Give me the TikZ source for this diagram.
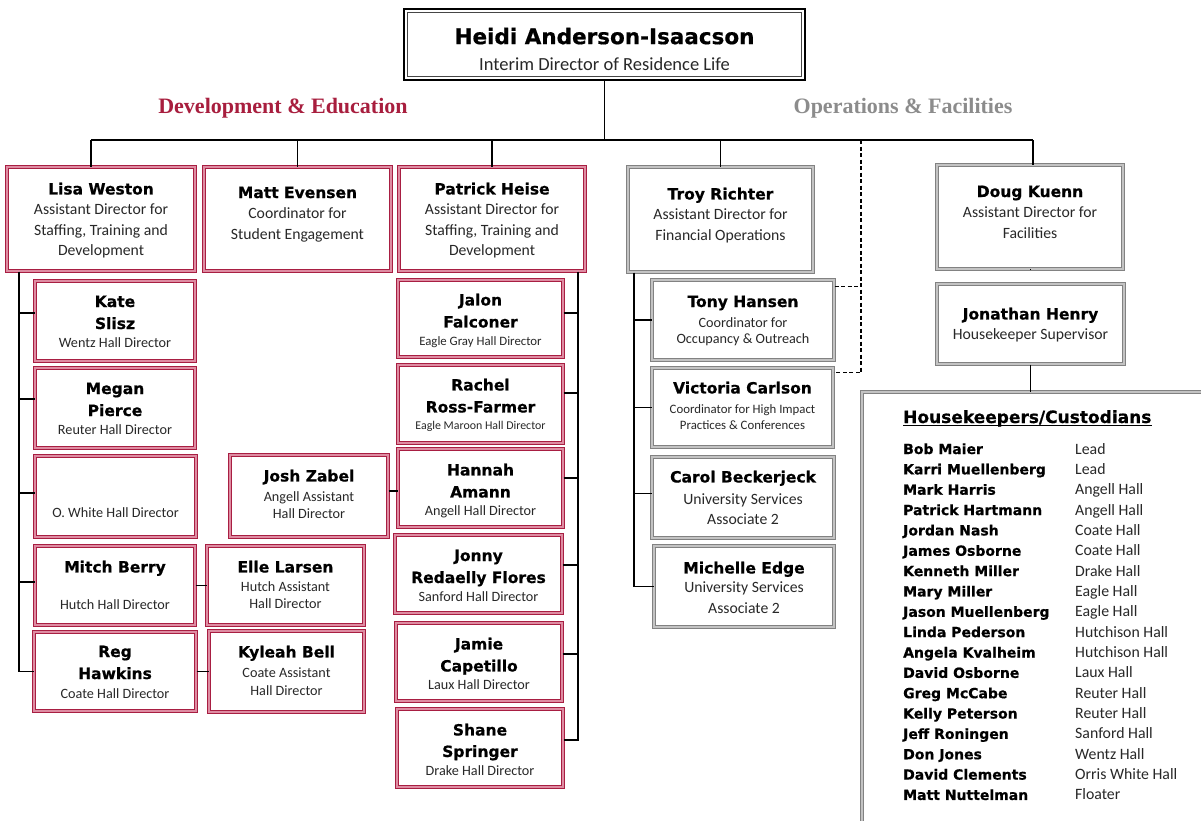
\documentclass[tikz,border=0pt]{standalone}
\usepackage{fontspec}
\setmainfont{Carlito}
\newfontfamily\heavyfont{DejaVu Sans}[BoldFeatures={FakeBold=0.6}]
\newfontfamily\headserif{Liberation Serif}
\usetikzlibrary{fit}
\definecolor{bred}{RGB}{168,30,66}
\definecolor{bpink}{RGB}{222,140,162}
\definecolor{bgray}{RGB}{130,130,130}
\definecolor{blgray}{RGB}{195,195,195}
\definecolor{headred}{RGB}{168,30,62}
\definecolor{headgray}{RGB}{140,140,140}
\definecolor{subgray}{RGB}{40,40,40}
\newcommand\nmf{\heavyfont\bfseries\fontsize{15.5}{20.5}\selectfont\color{black}}
\newcommand\sbf{\fontsize{15.7}{20.5}\selectfont\color{subgray}}
\newcommand\hlf{\fontsize{14.2}{20.5}\selectfont\color{subgray}}
\newcommand\orgbox[8]{%
  \coordinate (#1-a) at (#3,#4);
  \coordinate (#1-b) at (#5,#6);
  \node[#2, fit=(#1-a)(#1-b)] (#1) {};
  \node[txt] (#1-t) at ([yshift=-#7pt]#1.north) {#8};
}
\tikzset{
  redbox/.style={draw=bred, line width=1pt, double=bpink, double distance=1.3pt, inner sep=0pt},
  graybox/.style={draw=bgray, line width=1pt, double=blgray, double distance=1.3pt, inner sep=0pt},
  topbox/.style={draw=black, line width=2.8pt, inner sep=0pt},
  link/.style={line width=1.5pt, draw=black},
  dlink/.style={line width=1.5pt, draw=black, dash pattern=on 4pt off 2.5pt},
  txt/.style={anchor=north, align=center, inner sep=0pt, font=\fontsize{15.7}{20.5}\selectfont},
  sechead/.style={font=\headserif\bfseries\fontsize{22}{26}\selectfont, inner sep=0pt},
  hkname/.style={anchor=base west, inner sep=0pt, font=\heavyfont\bfseries\fontsize{14}{18}\selectfont},
  hkval/.style={anchor=base west, inner sep=0pt, font=\fontsize{15.8}{18}\selectfont, text=subgray}
}
\begin{document}
\begin{tikzpicture}[x=1pt,y=-1pt]
\clip (0,0) rectangle (1201,820);
\fill[white] (0,0) rectangle (1201,820);

% top box
\coordinate (top-a) at (404,9);
\coordinate (top-b) at (805,80);
\node[topbox, fit=(top-a)(top-b)] (top) {};
\draw[line width=0.9pt, draw={rgb,255:red,70;green,70;blue,70}] ([shift={(5pt,-5pt)}]top.north west) rectangle ([shift={(-5pt,5pt)}]top.south east);
\node[txt, font=\fontsize{18.5}{26}\selectfont] (top-t) at ([yshift=-20pt]top.north)
  {{\heavyfont\bfseries\fontsize{21.5}{26}\selectfont Heidi Anderson-Isaacson}\\{\color{subgray}Interim Director of Residence Life}};

% section headings
\node[sechead, text=headred] (devhead) at (283,108) {Development \& Education};
\node[sechead, text=headgray] (opshead) at (903,108) {Operations \& Facilities};

% level 2
\orgbox{lisa}{redbox}{7}{167}{195}{271}{16}{{\nmf Lisa Weston}\\{\sbf Assistant Director for}\\{\sbf Staffing, Training and}\\{\sbf Development}}
\orgbox{matt}{redbox}{204}{167}{391}{271}{20}{{\nmf Matt Evensen}\\{\sbf Coordinator for}\\{\sbf Student Engagement}}
\orgbox{patrick}{redbox}{399}{167}{585}{271}{16}{{\nmf Patrick Heise}\\{\sbf Assistant Director for}\\{\sbf Staffing, Training and}\\{\sbf Development}}
\orgbox{troy}{graybox}{628}{167}{813}{272}{21}{{\nmf Troy Richter}\\{\sbf Assistant Director for}\\{\sbf Financial Operations}}
\orgbox{doug}{graybox}{937}{165}{1123}{269}{21}{{\nmf Doug Kuenn}\\{\sbf Assistant Director for}\\{\sbf Facilities}}
\orgbox{jon}{graybox}{937}{284}{1124}{364}{24}{{\nmf Jonathan Henry}\\{\sbf Housekeeper Supervisor}}

% left column
\orgbox{kate}{redbox}{35}{281}{195}{361}{15}{{\nmf Kate}\\[1.5pt]{\nmf Slisz}\\[-2.5pt]{\hlf Wentz Hall Director}}
\orgbox{megan}{redbox}{35}{368}{195}{448}{15}{{\nmf Megan}\\[1.5pt]{\nmf Pierce}\\[-2.5pt]{\hlf Reuter Hall Director}}
\orgbox{owhite}{redbox}{35}{456}{196}{537}{52}{{\hlf O. White Hall Director}}
\orgbox{mitch}{redbox}{35}{546}{195}{625}{15}{{\nmf Mitch Berry}\\[16.5pt]{\hlf Hutch Hall Director}}
\orgbox{reg}{redbox}{34}{632}{196}{711}{14}{{\nmf Reg}\\[1.5pt]{\nmf Hawkins}\\[-1pt]{\hlf Coate Hall Director}}
\orgbox{elle}{redbox}{207}{546}{364}{625}{15}{{\nmf Elle Larsen}\\[-1.5pt]{\hlf Hutch Assistant}\\[-3pt]{\hlf Hall Director}}
\orgbox{kyleah}{redbox}{209}{631}{364}{712}{15}{{\nmf Kyleah Bell}\\[-0.5pt]{\hlf Coate Assistant}\\[-2.5pt]{\hlf Hall Director}}
\orgbox{josh}{redbox}{230}{455}{388}{537}{15}{{\nmf Josh Zabel}\\{\hlf Angell Assistant}\\[-3.5pt]{\hlf Hall Director}}

% Patrick column
\orgbox{jalon}{redbox}{398}{280}{563}{357}{14}{{\nmf Jalon}\\[1.5pt]{\nmf Falconer}\\[-2.5pt]{\fontsize{12.8}{20.5}\selectfont\color{subgray}Eagle Gray Hall Director}}
\orgbox{rachel}{redbox}{398}{365}{563}{443}{14}{{\nmf Rachel}\\[1.5pt]{\nmf Ross-Farmer}\\[-3pt]{\fontsize{11.9}{20.5}\selectfont\color{subgray}Eagle Maroon Hall Director}}
\orgbox{hannah}{redbox}{398}{449}{563}{527}{15}{{\nmf Hannah}\\[1.5pt]{\nmf Amann}\\[-2.5pt]{\hlf Angell Hall Director}}
\orgbox{jonny}{redbox}{395}{535}{562}{613}{15}{{\nmf Jonny}\\[1.5pt]{\nmf Redaelly Flores}\\[-2.5pt]{\hlf Sanford Hall Director}}
\orgbox{jamie}{redbox}{396}{623}{562}{701}{15}{{\nmf Jamie}\\[1.5pt]{\nmf Capetillo}\\[-2.5pt]{\hlf Laux Hall Director}}
\orgbox{shane}{redbox}{397}{709}{563}{787}{15}{{\nmf Shane}\\[1pt]{\nmf Springer}\\[-1.5pt]{\hlf Drake Hall Director}}

% Troy column
\orgbox{tony}{graybox}{652}{280}{834}{360}{16}{{\nmf Tony Hansen}\\[-0.5pt]{\hlf Coordinator for}\\[-4.5pt]{\hlf Occupancy \& Outreach}}
\orgbox{victoria}{graybox}{652}{368}{833}{447}{14}{{\nmf Victoria Carlson}\\[-0.5pt]{\fontsize{12.8}{20.5}\selectfont\color{subgray}Coordinator for High Impact}\\[-4.5pt]{\fontsize{12.8}{20.5}\selectfont\color{subgray}Practices \& Conferences}}
\orgbox{carol}{graybox}{652}{457}{834}{538}{14}{{\nmf Carol Beckerjeck}\\[1.5pt]{\sbf University Services}\\[-0.5pt]{\sbf Associate 2}}
\orgbox{michelle}{graybox}{654}{546}{834}{627}{16}{{\nmf Michelle Edge}\\[-1.5pt]{\sbf University Services}\\[0.5pt]{\sbf Associate 2}}

% housekeepers box
\coordinate (hk-a) at (862,392);
\coordinate (hk-b) at (1215,835);
\node[graybox, double distance=1.6pt, fit=(hk-a)(hk-b)] (hk) {};
\node[anchor=base west, inner sep=0pt, font=\heavyfont\bfseries\fontsize{17}{20}\selectfont] (hkhead) at (903,423) {Housekeepers/Custodians};
\draw[line width=1.2pt] ([yshift=-2.5pt]hkhead.base west) -- ([yshift=-2.5pt]hkhead.base east);
\foreach \n/\v [count=\i] in {Bob Maier/Lead, Karri Muellenberg/Lead, Mark Harris/Angell Hall, Patrick Hartmann/Angell Hall, Jordan Nash/Coate Hall, James Osborne/Coate Hall, Kenneth Miller/Drake Hall, Mary Miller/Eagle Hall, Jason Muellenberg/Eagle Hall, Linda Pederson/Hutchison Hall, Angela Kvalheim/Hutchison Hall, David Osborne/Laux Hall, Greg McCabe/Reuter Hall, Kelly Peterson/Reuter Hall, Jeff Roningen/Sanford Hall, Don Jones/Wentz Hall, David Clements/Orris White Hall, Matt Nuttelman/Floater}{
  \node[hkname] (hkn\i) at (903,{454+(\i-1)*20.35}) {\n};
  \node[hkval] (hkv\i) at (1075,{454+(\i-1)*20.35}) {\v};
}

% connectors
\coordinate (barL) at (91,140);
\coordinate (barR) at (1033,140);
\coordinate (dtop) at (861,140);
\draw[link] (top.south) -- (top.south |- barL);
\draw[link] (barL) -- (barR);
\draw[link] (barL) -- (barL |- lisa.north);
\draw[link] (matt.north |- barL) -- (matt.north);
\draw[link] (patrick.north |- barL) -- (patrick.north);
\draw[link] (troy.north |- barL) -- (troy.north);
\draw[link] (barR) -- (barR |- doug.north);
\draw[link] (doug.south) -- (doug.south -| jon.north);
\draw[link] (jon.south) -- (jon.south |- hk.north);

% Lisa spine
\coordinate (lsp) at (19,0);
\draw[link] (lisa.south -| lsp) |- (reg.west);
\draw[link] ([yshift=8pt]kate.west -| lsp) -- ([yshift=8pt]kate.west);
\draw[link] ([yshift=9pt]megan.west -| lsp) -- ([yshift=9pt]megan.west);
\draw[link] ([yshift=3.5pt]owhite.west -| lsp) -- ([yshift=3.5pt]owhite.west);
\draw[link] ([yshift=3.5pt]mitch.west -| lsp) -- ([yshift=3.5pt]mitch.west);
\draw[link] (mitch.east) -- (mitch.east -| elle.west);
\draw[link] (reg.east) -- (reg.east -| kyleah.west);
\draw[link] ([yshift=5pt]josh.east) -- ([yshift=5pt]josh.east -| hannah.west);

% Patrick spine
\coordinate (psp) at (578,0);
\draw[link] (patrick.south -| psp) |- ([yshift=8pt]shane.east);
\draw[link] ([yshift=5.5pt]jalon.east) -- ([yshift=5.5pt]jalon.east -| psp);
\draw[link] ([yshift=11pt]rachel.east) -- ([yshift=11pt]rachel.east -| psp);
\draw[link] ([yshift=10pt]hannah.east) -- ([yshift=10pt]hannah.east -| psp);
\draw[link] ([yshift=9pt]jonny.east) -- ([yshift=9pt]jonny.east -| psp);
\draw[link] ([yshift=8pt]jamie.east) -- ([yshift=8pt]jamie.east -| psp);

% Troy spine
\coordinate (tsp) at (634,0);
\draw[link] (troy.south -| tsp) |- (michelle.west);
\draw[link] (tony.west -| tsp) -- (tony.west);
\draw[link] (victoria.west -| tsp) -- (victoria.west);
\draw[link] ([yshift=4pt]carol.west -| tsp) -- ([yshift=4pt]carol.west);

% dashed
\draw[dlink] (dtop) |- ([yshift=-5pt]victoria.north east);
\draw[dlink] ([yshift=-7pt]tony.north east) -- ([yshift=-7pt]tony.north east -| dtop);
\end{tikzpicture}
\end{document}
